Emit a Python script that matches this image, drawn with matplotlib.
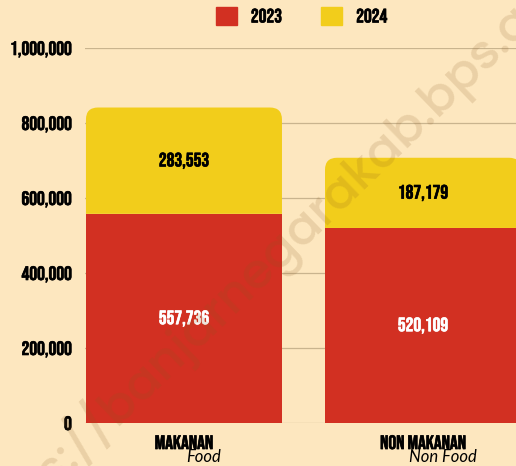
import numpy as np
import matplotlib.pyplot as plt
import matplotlib.patheffects as pe
from matplotlib.path import Path
from matplotlib.patches import PathPatch, Patch

categories = ['MAKANAN', 'NON MAKANAN']
categories_en = ['Food', 'Non Food']
val_2023 = [557736, 520109]
val_2024 = [283553, 187179]
yticks = [0, 200000, 400000, 600000, 800000, 1000000]

bg = '#fde7bf'
red = '#d23022'
yellow = '#f2cd1b'
bold_font = ['Bebas Neue', 'DejaVu Sans']
fs = 14


def heavy(color):
    # Bebas Neue is a bit light, thicken it slightly with a stroke
    return [pe.withStroke(linewidth=0.45, foreground=color)]


W, H = 516, 466
fig = plt.figure(figsize=(W / 100, H / 100), dpi=100, facecolor=bg)
ax = fig.add_axes([85 / W, 43 / H, 431 / W, 375 / H])
ax.set_facecolor(bg)

x = np.arange(len(categories))
width = 0.82
ax.set_xlim(-0.414, 1.389)
ax.set_ylim(0, 1000000)


def rounded_top_bar(ax, xc, bottom, height, width, color, r_px=12):
    # radius in pixels -> data units
    p0 = ax.transData.transform((0, 0))
    p1 = ax.transData.transform((1, 1e5))
    rx = r_px / (p1[0] - p0[0])
    ry = r_px * 1e5 / (p1[1] - p0[1])
    x0, x1 = xc - width / 2, xc + width / 2
    y0, y1 = bottom, bottom + height
    verts = [(x0, y0), (x0, y1 - ry), (x0, y1), (x0 + rx, y1),
             (x1 - rx, y1), (x1, y1), (x1, y1 - ry), (x1, y0), (x0, y0)]
    codes = [Path.MOVETO, Path.LINETO, Path.CURVE3, Path.CURVE3,
             Path.LINETO, Path.CURVE3, Path.CURVE3, Path.LINETO, Path.CLOSEPOLY]
    ax.add_patch(PathPatch(Path(verts, codes), facecolor=color,
                           edgecolor='none', zorder=3))


ax.bar(x, val_2023, width, color=red, zorder=3)
for xi, b, h in zip(x, val_2023, val_2024):
    rounded_top_bar(ax, xi, b, h, width, yellow)

# value labels
for xi, b, h in zip(x, val_2023, val_2024):
    ax.text(xi, b / 2, f'{b:,}', ha='center', va='center', color='white',
            fontsize=fs, family=bold_font, zorder=4, path_effects=heavy('white'))
    ax.text(xi, b + h / 2, f'{h:,}', ha='center', va='center', color='black',
            fontsize=fs, family=bold_font, zorder=4, path_effects=heavy('black'))

# axes styling
for s in ax.spines.values():
    s.set_visible(False)
ax.set_yticks(yticks)
ax.set_yticklabels([f'{v:,}' for v in yticks])
ax.yaxis.grid(True, color='#c9b48e', lw=0.9)
ax.set_axisbelow(True)
ax.tick_params(axis='y', length=0, pad=9.5)
for lab in ax.get_yticklabels():
    lab.set_fontfamily(bold_font)
    lab.set_fontsize(fs)
    lab.set_path_effects(heavy('black'))
ax.set_xticks([])

# category labels
for xi, c, e in zip(x, categories, categories_en):
    ax.annotate(c, xy=(xi, 0), xytext=(0, -13.7), textcoords='offset points',
                ha='center', va='center', fontsize=fs, family=bold_font,
                annotation_clip=False, path_effects=heavy('black'))
    ax.annotate(e, xy=(xi, 0), xytext=(14.4, -24.3), textcoords='offset points',
                ha='center', va='center', fontsize=12, style='italic',
                family=['Lato', 'DejaVu Sans'], annotation_clip=False)

# legend
handles = [Patch(color=red, label='2023'), Patch(color=yellow, label='2024')]
leg = fig.legend(handles=handles, loc='center', bbox_to_anchor=(0.584, 0.966),
                 ncol=2, frameon=False, handlelength=1.1, handleheight=1.1,
                 handletextpad=0.72, columnspacing=2.0, borderpad=0,
                 prop={'family': bold_font, 'size': fs})
for t in leg.get_texts():
    t.set_path_effects(heavy('black'))

# watermark
fig.text(0.54, 0.47, 'https://banjarnegarakab.bps.go.id', rotation=44,
         rotation_mode='anchor', ha='center', va='center', fontsize=35,
         color='#8a5a20', alpha=0.16, family=['Poppins', 'DejaVu Sans'],
         fontweight='medium', zorder=10)

fig.savefig('out.png', dpi=100, facecolor=bg)
